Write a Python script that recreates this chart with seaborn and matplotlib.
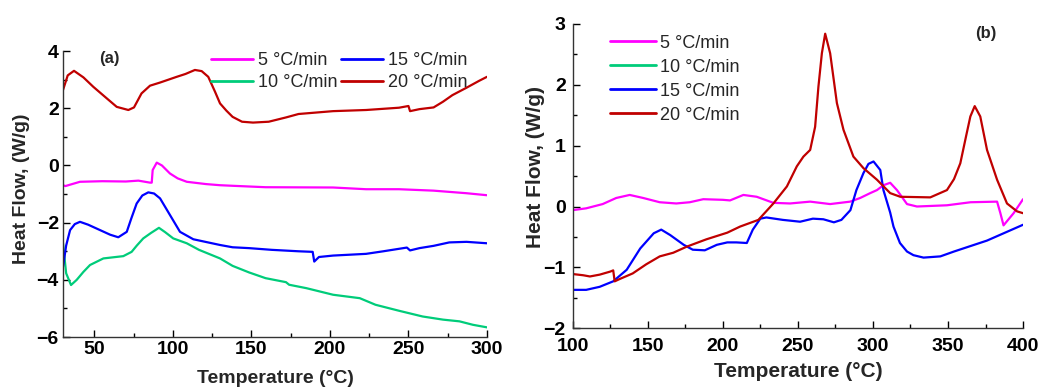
import numpy as np
import pandas as pd
import matplotlib
matplotlib.use("Agg")
import matplotlib.pyplot as plt
import seaborn as sns
from matplotlib.lines import Line2D
from matplotlib.ticker import MultipleLocator

rates = ['5 °C/min', '10 °C/min', '15 °C/min', '20 °C/min']
colors = ['#ff00ff', '#00cc7a', '#0000ff', '#c00000']

# ---- panel (a): DSC curves, 30-300 °C ----
a5_T = [30, 31.5, 40.8, 55, 70, 78, 85.4, 86.5, 87.1, 89.7, 93, 98.1, 103, 108.8, 121, 130, 138, 159, 202, 223, 244, 266, 287, 300]
a5_hf = [-0.69, -0.72, -0.57, -0.55, -0.56, -0.53, -0.6, -0.6, -0.16, 0.1, 0.0, -0.28, -0.45, -0.57, -0.65, -0.69, -0.71, -0.76, -0.77, -0.83, -0.83, -0.88, -0.97, -1.04]

a10_T = [30, 32, 35.1, 38.7, 43, 47.2, 55.7, 68.4, 73.7, 77, 81.1, 86, 91.1, 95, 100.2, 108.8, 116.6, 130, 138, 148.5, 159, 172, 174, 185, 202, 219, 229, 244, 259, 272, 282.5, 291, 300]
a10_hf = [-2.72, -3.77, -4.18, -4.0, -3.72, -3.48, -3.25, -3.17, -3.02, -2.8, -2.55, -2.36, -2.18, -2.33, -2.55, -2.72, -2.95, -3.25, -3.51, -3.74, -3.94, -4.08, -4.17, -4.29, -4.52, -4.64, -4.87, -5.08, -5.28, -5.39, -5.45, -5.57, -5.66]

a15_T = [30, 32, 34.5, 37.5, 40.8, 46, 53.6, 60, 65.2, 70.6, 73.5, 76.9, 80.5, 84.3, 88, 91.8, 98.1, 104.5, 113, 130, 138, 148.5, 163, 180, 189, 190, 193, 202, 223, 234, 249, 251, 257, 266, 276, 287, 300]
a15_hf = [-3.54, -2.8, -2.26, -2.05, -1.97, -2.07, -2.26, -2.42, -2.51, -2.32, -1.85, -1.33, -1.05, -0.94, -0.98, -1.15, -1.73, -2.32, -2.58, -2.78, -2.86, -2.89, -2.95, -3.0, -3.02, -3.36, -3.2, -3.15, -3.09, -3.0, -2.87, -2.97, -2.89, -2.81, -2.69, -2.67, -2.72]

a20_T = [30, 33, 37, 43, 49.3, 57.8, 64.2, 71.6, 75.2, 80, 85.4, 91.8, 102.4, 108, 114, 118.3, 122.5, 126.8, 130, 134, 138, 144, 151, 161, 172, 180, 191, 202, 223, 244, 250, 251, 257, 266, 272, 278, 287, 295, 300]
a20_hf = [2.64, 3.15, 3.31, 3.08, 2.75, 2.35, 2.05, 1.94, 2.03, 2.52, 2.79, 2.9, 3.1, 3.2, 3.34, 3.3, 3.1, 2.58, 2.17, 1.92, 1.7, 1.53, 1.5, 1.53, 1.68, 1.8, 1.85, 1.9, 1.94, 2.02, 2.08, 1.9, 1.97, 2.03, 2.23, 2.46, 2.72, 2.96, 3.1]

# ---- panel (b): 100-400 °C (no 10 °C/min trace drawn) ----
b5_T = [100, 109, 120, 129, 138, 147, 158, 169, 178, 187, 200, 204.8, 213.7, 222.6, 233.7, 244.8, 258.2, 271.5, 284.9, 291.5, 298.2, 302.7, 307, 311.5, 316, 322.7, 329.3, 349.3, 365, 382.7, 384.9, 387, 393.7, 400]
b5_hf = [-0.06, -0.03, 0.04, 0.14, 0.19, 0.14, 0.07, 0.05, 0.07, 0.12, 0.11, 0.1, 0.19, 0.16, 0.06, 0.05, 0.08, 0.04, 0.08, 0.14, 0.22, 0.27, 0.35, 0.39, 0.27, 0.04, 0.0, 0.02, 0.07, 0.08, -0.11, -0.31, -0.11, 0.12]

b15_T = [100, 109, 118, 127, 136, 145, 154, 159, 165, 174, 180, 188, 196, 203, 209, 216, 220, 225, 229, 240, 251.5, 260, 267, 274, 279, 285, 289, 293.7, 297, 300.4, 304.9, 307, 311.5, 313.7, 318, 322.7, 327, 333.7, 344.9, 354, 376, 400]
b15_hf = [-1.37, -1.37, -1.32, -1.23, -1.04, -0.69, -0.44, -0.38, -0.47, -0.63, -0.71, -0.72, -0.63, -0.59, -0.59, -0.6, -0.38, -0.2, -0.18, -0.22, -0.25, -0.2, -0.21, -0.26, -0.22, -0.06, 0.27, 0.55, 0.7, 0.74, 0.6, 0.27, -0.1, -0.33, -0.6, -0.74, -0.8, -0.84, -0.82, -0.74, -0.56, -0.3]

b20_T = [100, 107, 111.5, 118, 125, 127, 128, 131.5, 140, 149, 158, 167, 176, 189, 203, 211.5, 223.7, 233.7, 242.7, 249.3, 253.7, 258.2, 261.5, 263.7, 266, 268.2, 271.5, 276, 280.4, 287, 293.7, 302.7, 311.5, 318.2, 338.2, 349.3, 354, 358.2, 362, 364.9, 367.8, 371.5, 376, 382.7, 389.3, 396, 400]
b20_hf = [-1.11, -1.13, -1.15, -1.12, -1.07, -1.05, -1.23, -1.19, -1.1, -0.95, -0.82, -0.76, -0.66, -0.54, -0.43, -0.33, -0.22, 0.05, 0.33, 0.66, 0.82, 0.93, 1.31, 1.97, 2.52, 2.84, 2.52, 1.7, 1.26, 0.82, 0.63, 0.44, 0.22, 0.16, 0.15, 0.27, 0.45, 0.71, 1.15, 1.48, 1.65, 1.48, 0.93, 0.44, 0.05, -0.08, -0.11]


def long_df(series):
    parts = []
    for rate, T, hf in series:
        parts.append(pd.DataFrame({'T': T, 'HF': hf, 'rate': rate}))
    return pd.concat(parts, ignore_index=True)


df_a = long_df([(rates[0], a5_T, a5_hf), (rates[1], a10_T, a10_hf),
                (rates[2], a15_T, a15_hf), (rates[3], a20_T, a20_hf)])
df_b = long_df([(rates[0], b5_T, b5_hf), (rates[2], b15_T, b15_hf),
                (rates[3], b20_T, b20_hf)])

sns.set_style("ticks")
plt.rcParams['font.family'] = ['Liberation Sans', 'DejaVu Sans']

pal = dict(zip(rates, colors))
fig = plt.figure(figsize=(10.45, 3.87), dpi=100)
ax1 = fig.add_axes([0.0603, 0.129, 0.4057, 0.739])
ax2 = fig.add_axes([0.548, 0.152, 0.431, 0.786])

sns.lineplot(data=df_a, x='T', y='HF', hue='rate', hue_order=rates, palette=pal,
             sort=False, estimator=None, lw=1.6, legend=False, ax=ax1)
sns.lineplot(data=df_b, x='T', y='HF', hue='rate', hue_order=rates, palette=pal,
             sort=False, estimator=None, lw=1.6, legend=False, ax=ax2)

ax1.set_xlim(30, 300)
ax1.set_ylim(-6, 4)
ax1.set_xticks([50, 100, 150, 200, 250, 300])
ax1.set_yticks([-6, -4, -2, 0, 2, 4])
ax1.xaxis.set_minor_locator(MultipleLocator(25))
ax1.yaxis.set_minor_locator(MultipleLocator(1))

ax2.set_xlim(100, 400)
ax2.set_ylim(-2, 3)
ax2.set_xticks([100, 150, 200, 250, 300, 350, 400])
ax2.set_yticks([-2, -1, 0, 1, 2, 3])
ax2.xaxis.set_minor_locator(MultipleLocator(25))
ax2.yaxis.set_minor_locator(MultipleLocator(0.5))

handles = [Line2D([], [], color=c, lw=2) for c in colors]

for ax, lab_fs in [(ax1, 14), (ax2, 15)]:
    sns.despine(ax=ax)
    ax.tick_params(which='both', direction='in', colors='black')
    ax.tick_params(which='major', length=5, width=1, labelsize=14, pad=3)
    ax.tick_params(which='minor', length=3, width=1)
    for lab in ax.get_xticklabels() + ax.get_yticklabels():
        lab.set_fontweight('bold')
    for s in ['left', 'bottom']:
        ax.spines[s].set_color('#333333')
        ax.spines[s].set_linewidth(1)
    ax.set_xlabel('Temperature (°C)', fontsize=lab_fs, fontweight='bold')
    ax.set_ylabel('Heat Flow, (W/g)', fontsize=lab_fs, fontweight='bold')

ax2.tick_params(axis='x', which='major', pad=7)
ax2.tick_params(axis='y', which='major', pad=5)

ax1.xaxis.set_label_coords(0.502, -0.115)
ax1.yaxis.set_label_coords(-0.078, 0.52)
ax2.xaxis.set_label_coords(0.502, -0.11)
ax2.yaxis.set_label_coords(-0.062, 0.53)
ax1.xaxis.label.set_va('top')
ax2.xaxis.label.set_va('top')

ax1.legend(handles, rates, ncol=2, loc='upper left', bbox_to_anchor=(0.35, 0.996),
           frameon=False, fontsize=13, handlelength=2.3, handletextpad=0.3,
           columnspacing=0.2, labelspacing=0.26, borderpad=0, borderaxespad=0)
ax2.legend(handles, rates, ncol=1, loc='upper left', bbox_to_anchor=(0.084, 0.965),
           frameon=False, fontsize=13, handlelength=2.5, handletextpad=0.25,
           labelspacing=0.39, borderpad=0, borderaxespad=0)

ax1.text(0.085, 0.975, '(a)', transform=ax1.transAxes, fontsize=12,
         fontweight='bold', va='center', ha='left')
ax2.text(0.893, 0.97, '(b)', transform=ax2.transAxes, fontsize=12,
         fontweight='bold', va='center', ha='left')

fig.savefig('out.png', dpi=100)
